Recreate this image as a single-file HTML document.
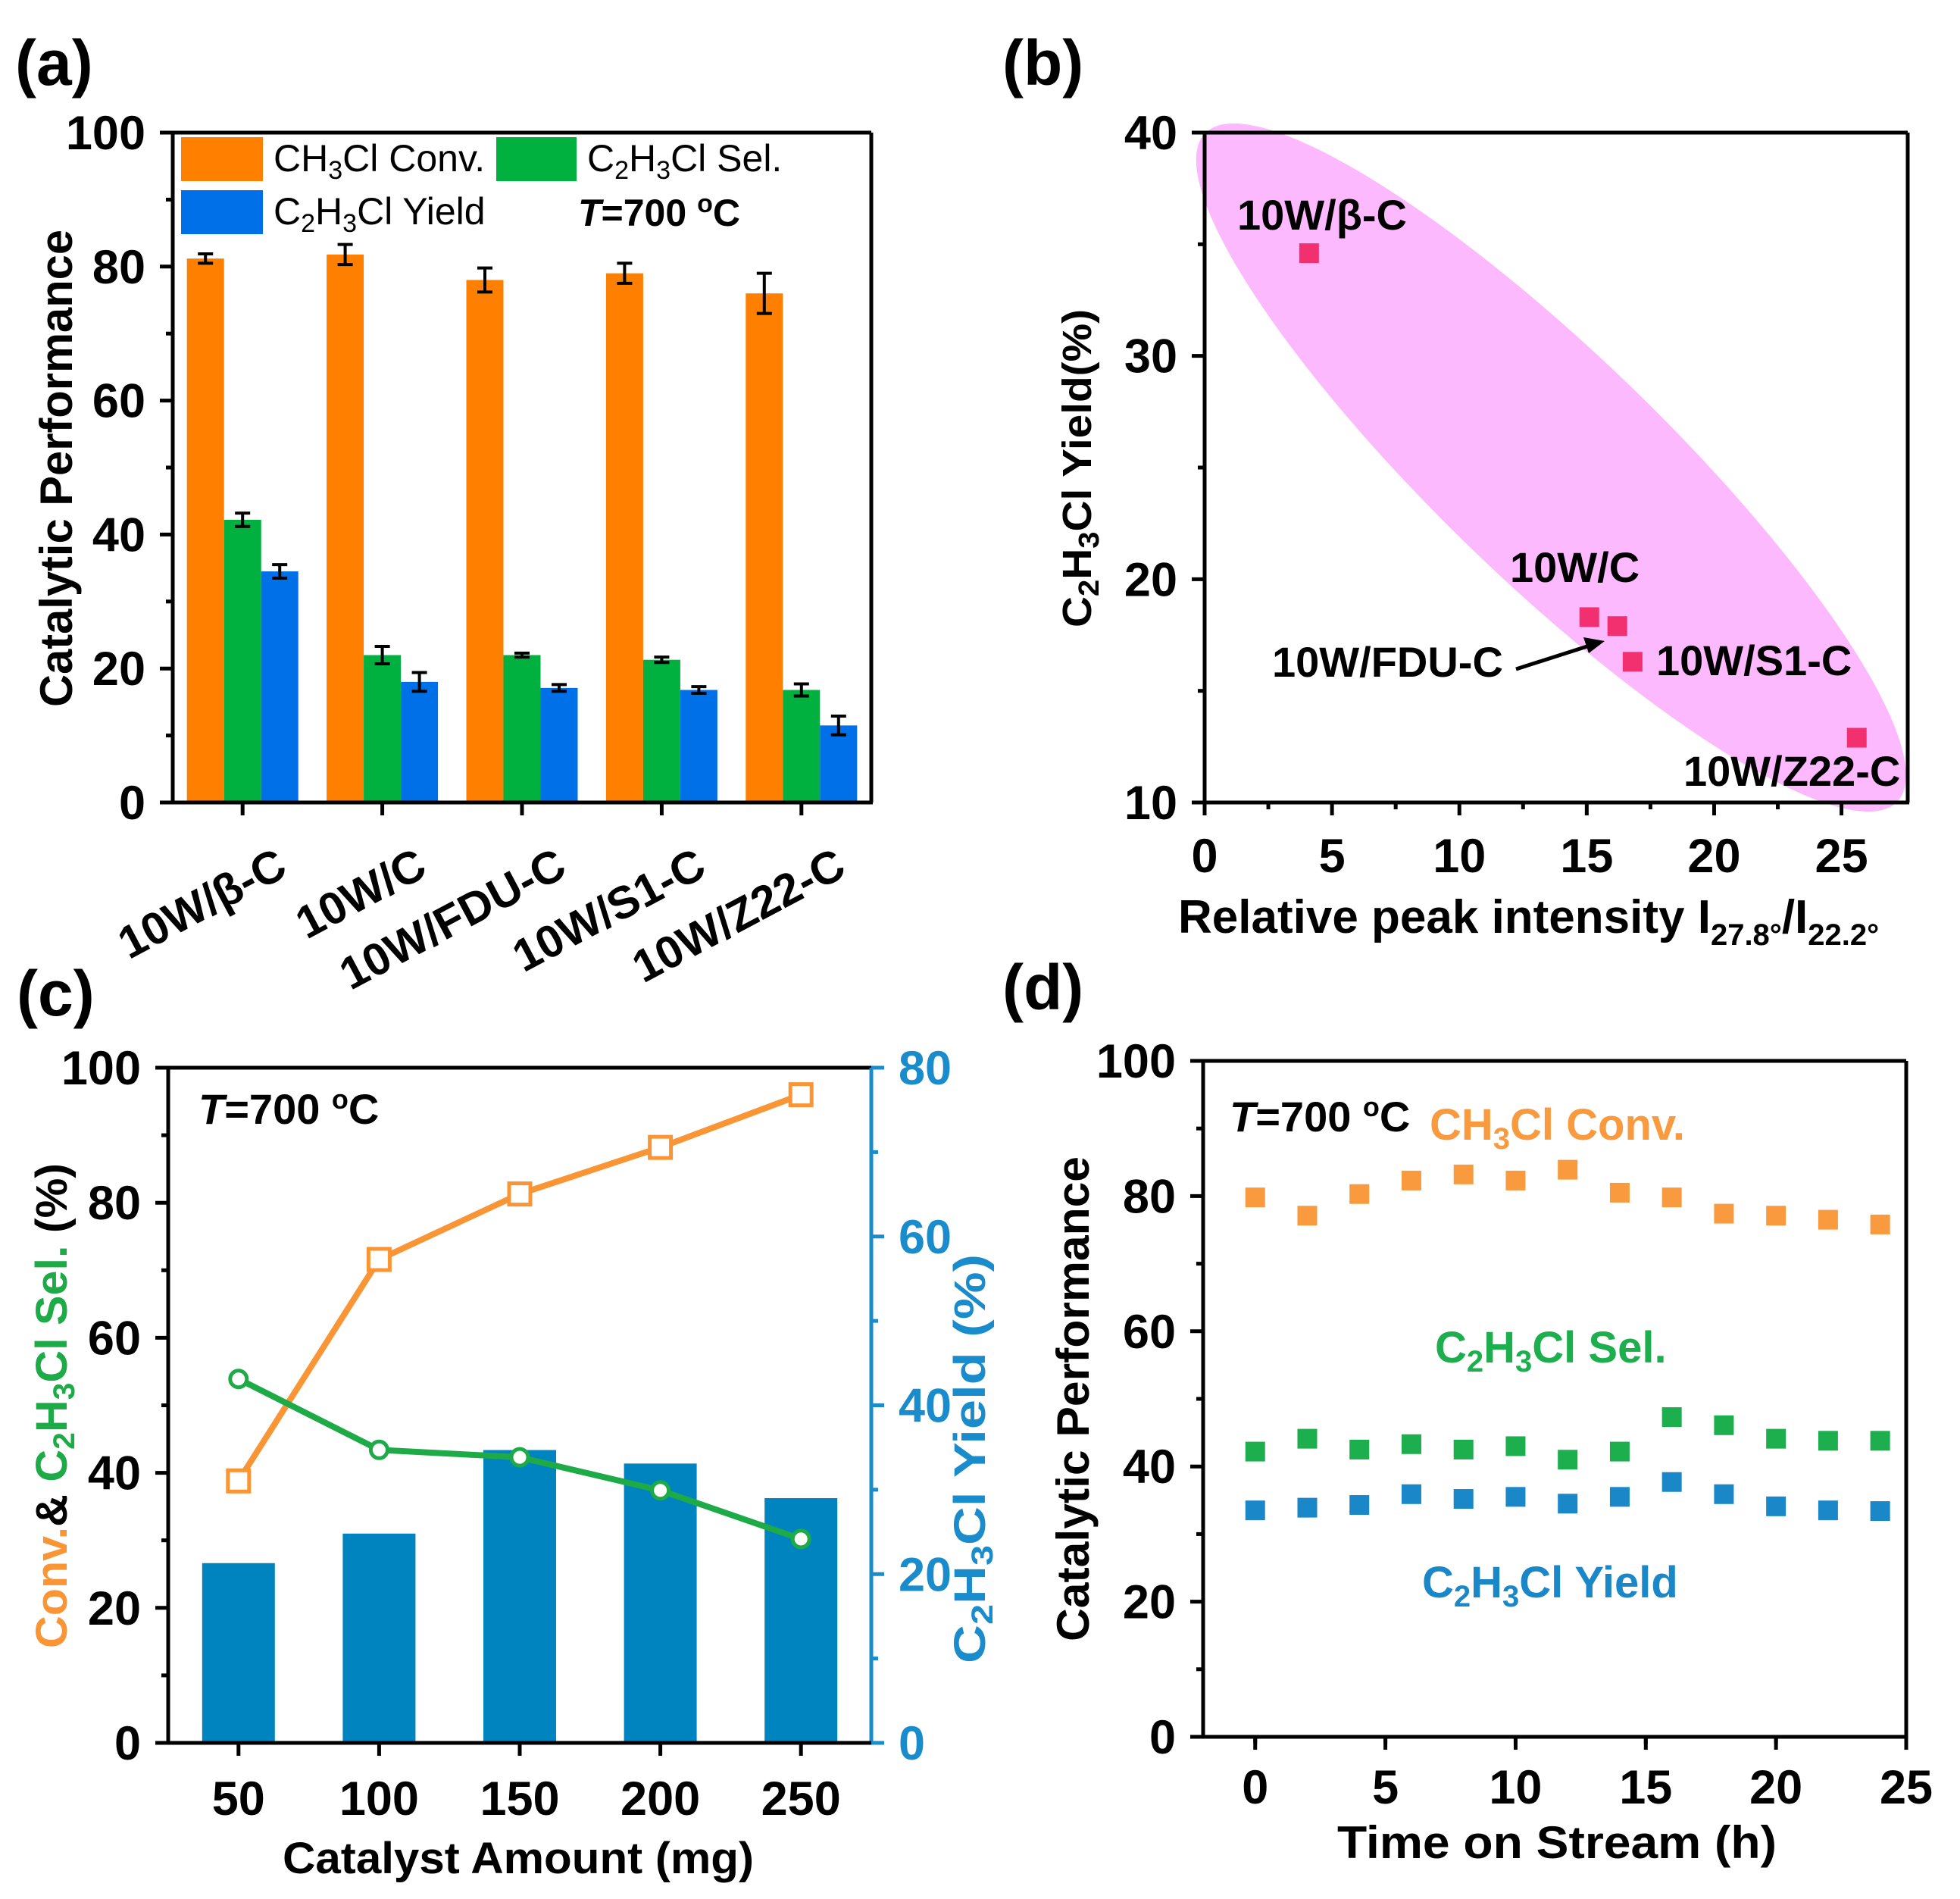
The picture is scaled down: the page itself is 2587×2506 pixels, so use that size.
<!DOCTYPE html>
<html><head><meta charset="utf-8"><style>
html,body{margin:0;padding:0;background:#fff;}
svg{display:block;font-family:"Liberation Sans",Arial,sans-serif;}
</style></head><body>
<svg id="fig" width="2587" height="2506" viewBox="0 0 2587 2506" xmlns="http://www.w3.org/2000/svg">
<rect width="2587" height="2506" fill="#fff"/>
<g id="marks"></g>
<!-- panel labels -->
<text x="20" y="112" font-size="84" font-weight="bold">(a)</text>
<text x="1323" y="112" font-size="84" font-weight="bold">(b)</text>
<text x="22" y="1340" font-size="84" font-weight="bold">(c)</text>
<text x="1323" y="1332" font-size="84" font-weight="bold">(d)</text>

<!-- (a) legend & annotations -->
<g>
<rect x="239" y="181" width="108" height="58" fill="#FF8000"/>
<text x="361" y="226" font-size="50">CH<tspan font-size="34" dy="10">3</tspan><tspan dy="-10">Cl Conv.</tspan></text>
<rect x="655" y="181" width="106" height="58" fill="#00B140"/>
<text x="775" y="226" font-size="50">C<tspan font-size="34" dy="10">2</tspan><tspan dy="-10">H</tspan><tspan font-size="34" dy="10">3</tspan><tspan dy="-10">Cl  Sel.</tspan></text>
<rect x="239" y="251" width="108" height="58" fill="#0070E8"/>
<text x="361" y="296" font-size="50">C<tspan font-size="34" dy="10">2</tspan><tspan dy="-10">H</tspan><tspan font-size="34" dy="10">3</tspan><tspan dy="-10">Cl Yield</tspan></text>
</g>
<text x="763" y="298" font-size="50" font-weight="bold"><tspan font-style="italic">T</tspan>=700 <tspan font-size="34" dy="-18">o</tspan><tspan dy="18">C</tspan></text>
<text transform="translate(95,618) rotate(-90)" text-anchor="middle" font-size="60" font-weight="bold" textLength="630" lengthAdjust="spacingAndGlyphs">Catalytic Performance</text>

<!-- (b) -->
<text transform="translate(1440,618) rotate(-90)" text-anchor="middle" font-size="54" font-weight="bold" textLength="420" lengthAdjust="spacingAndGlyphs">C<tspan font-size="38" dy="10">2</tspan><tspan dy="-10">H</tspan><tspan font-size="38" dy="10">3</tspan><tspan dy="-10">Cl Yield(%)</tspan></text>
<text x="1555" y="1231" font-size="62" font-weight="bold">Relative peak intensity I<tspan font-size="40" dy="16">27.8°</tspan><tspan dy="-16">/I</tspan><tspan font-size="40" dy="16">22.2°</tspan></text>
<g font-size="56" font-weight="bold">
<text x="1633" y="303">10W/β-C</text>
<text x="1993" y="768">10W/C</text>
<text x="1679" y="893">10W/FDU-C</text>
<text x="2186" y="891">10W/S1-C</text>
<text x="2222" y="1037">10W/Z22-C</text>
</g>
<g>
<line x1="2001" y1="883" x2="2098" y2="852" stroke="#000" stroke-width="5"/>
<polygon points="2118,846 2090,841 2097,862" fill="#000"/>
</g>

<!-- (c) -->
<text x="262" y="1483" font-size="56" font-weight="bold"><tspan font-style="italic">T</tspan>=700 <tspan font-size="36" dy="-20">o</tspan><tspan dy="20">C</tspan></text>
<text transform="translate(88,1855) rotate(-90)" text-anchor="middle" font-size="58" font-weight="bold" textLength="640" lengthAdjust="spacingAndGlyphs"><tspan fill="#F99535">Conv.</tspan><tspan fill="#000">&amp; </tspan><tspan fill="#1FAA48">C</tspan><tspan fill="#1FAA48" font-size="40" dy="10">2</tspan><tspan fill="#1FAA48" dy="-10">H</tspan><tspan fill="#1FAA48" font-size="40" dy="10">3</tspan><tspan fill="#1FAA48" dy="-10">Cl Sel. </tspan><tspan fill="#000">(%)</tspan></text>
<text transform="translate(1300,1925) rotate(-90)" text-anchor="middle" font-size="58" font-weight="bold" fill="#1A8CCB" textLength="540" lengthAdjust="spacingAndGlyphs">C<tspan font-size="40" dy="10">2</tspan><tspan dy="-10">H</tspan><tspan font-size="40" dy="10">3</tspan><tspan dy="-10">Cl Yield (%)</tspan></text>
<text x="684" y="2472" text-anchor="middle" font-size="58" font-weight="bold" textLength="622" lengthAdjust="spacingAndGlyphs">Catalyst Amount (mg)</text>

<!-- (d) -->
<text x="1623" y="1493" font-size="56" font-weight="bold"><tspan font-style="italic">T</tspan>=700 <tspan font-size="36" dy="-20">o</tspan><tspan dy="20">C</tspan></text>
<text x="1887" y="1504" font-size="58" font-weight="bold" fill="#F99A3E">CH<tspan font-size="40" dy="12">3</tspan><tspan dy="-12">Cl Conv.</tspan></text>
<text x="1894" y="1798" font-size="58" font-weight="bold" fill="#1DAE4E">C<tspan font-size="40" dy="12">2</tspan><tspan dy="-12">H</tspan><tspan font-size="40" dy="12">3</tspan><tspan dy="-12">Cl Sel.</tspan></text>
<text x="1877" y="2108" font-size="58" font-weight="bold" fill="#1A87C9">C<tspan font-size="40" dy="12">2</tspan><tspan dy="-12">H</tspan><tspan font-size="40" dy="12">3</tspan><tspan dy="-12">Cl Yield</tspan></text>
<text transform="translate(1437,1846) rotate(-90)" text-anchor="middle" font-size="60" font-weight="bold" textLength="640" lengthAdjust="spacingAndGlyphs">Catalytic Performance</text>
<text x="2055" y="2452" text-anchor="middle" font-size="60" font-weight="bold" textLength="580" lengthAdjust="spacingAndGlyphs">Time on Stream (h)</text>
</svg>
<script>
// ---------- data ----------
const catA = ["10W/β-C","10W/C","10W/FDU-C","10W/S1-C","10W/Z22-C"];
const convA = [81.2, 81.8, 78.0, 79.0, 76.0];
const convErrA = [0.7, 1.5, 1.8, 1.5, 3.0];
const selA = [42.2, 22.0, 22.0, 21.3, 16.8];
const selErrA = [1.0, 1.3, 0.3, 0.4, 0.9];
const yieldA = [34.5, 18.0, 17.1, 16.8, 11.5];
const yieldErrA = [1.0, 1.4, 0.5, 0.5, 1.4];
const ticksA = [0, 20, 40, 60, 80, 100];

const ratioB = [4.1, 15.1, 16.2, 16.8, 25.6];
const yieldB = [34.6, 18.3, 17.9, 16.3, 12.9];
const ticksBy = [10, 20, 30, 40];
const ticksBx = [0, 5, 10, 15, 20, 25];

const amountC = [50, 100, 150, 200, 250];
const convC = [38.8, 71.6, 81.3, 88.2, 96.0];
const selC = [53.9, 43.4, 42.3, 37.4, 30.2];
const yieldC = [21.3, 24.8, 34.7, 33.1, 29.0];
const ticksCl = [0, 20, 40, 60, 80, 100];
const ticksCr = [0, 20, 40, 60, 80];

const timeD = [0, 2, 4, 6, 8, 10, 12, 14, 16, 18, 20, 22, 24];
const convD = [79.8, 77.1, 80.3, 82.3, 83.2, 82.3, 83.9, 80.5, 79.8, 77.4, 77.1, 76.5, 75.8];
const selD = [42.2, 44.1, 42.5, 43.3, 42.5, 43.0, 41.0, 42.2, 47.3, 46.1, 44.1, 43.8, 43.8];
const yieldD = [33.5, 33.9, 34.3, 35.9, 35.2, 35.5, 34.5, 35.5, 37.7, 35.9, 34.1, 33.5, 33.4];
const ticksDy = [0, 20, 40, 60, 80, 100];
const ticksDx = [0, 5, 10, 15, 20, 25];

// ---------- scales ----------
const NS = "http://www.w3.org/2000/svg";
const G = document.getElementById("marks");
function mk(tag, a, parent) { const e = document.createElementNS(NS, tag); for (const k in a) e.setAttribute(k, a[k]); (parent || G).appendChild(e); return e; }
function lin(d0, d1, r0, r1) { return v => r0 + (v - d0) * (r1 - r0) / (d1 - d0); }

const A = {l:228, r:1150, t:175, b:1059};
const ayA = lin(0, 100, A.b, A.t);
const groupW = (A.r - A.l) / catA.length;
const axA = i => A.l + (i + 0.5) * groupW;
const B = {l:1590, r:2518, t:175, b:1059};
const axB = lin(0, 27.6, B.l, B.r), ayB = lin(10, 40, B.b, B.t);
const C = {l:222, r:1150, t:1409, b:2300};
const axC = lin(25, 275, C.l, C.r), ayCl = lin(0, 100, C.b, C.t), ayCr = lin(0, 80, C.b, C.t);
const D = {l:1588, r:2516, t:1400, b:2292};
const axD = lin(-2, 25, D.l, D.r), ayD = lin(0, 100, D.b, D.t);

function frame(P, name, rightColor) {
  const f = mk("path", {d:`M${P.l},${P.b}V${P.t}H${P.r}`, fill:"none", stroke:"#000", "stroke-width":5});
  
  
  const rr = mk("line", {x1:P.r, y1:P.t, x2:P.r, y2:P.b, stroke:rightColor || "#000", "stroke-width":5});
  
  
  const bb = mk("line", {x1:P.l - 15, y1:P.b, x2:P.r + 2, y2:P.b, stroke:"#000", "stroke-width":5});
  
  
}
function yTicks(ticks, sc, x, name, minorStep, lo, hi, color, side) {
  const c = color || "#000"; const dir = side === "r" ? 1 : -1;
  for (const v of ticks) {
    const y = sc(v);
    const t = mk("line", {x1:x, y1:y, x2:x + dir * 17, y2:y, stroke:c, "stroke-width":5});
    
    
    const tx = mk("text", {x: x + dir * 36, y: y + 22, "text-anchor": side === "r" ? "start" : "end", "font-size":63, "font-weight":"bold", fill:c});
    tx.textContent = v;
    
    
  }
  for (let v = lo + minorStep; v < hi; v += 2 * minorStep) {
    const y = sc(v);
    const m = mk("line", {x1:x, y1:y, x2:x + dir * 9, y2:y, stroke:c, "stroke-width":5});
    
    
  }
}
function xTicks(ticks, sc, y, name, minorStep, lo, hi, labelY) {
  for (const v of ticks) {
    const x = sc(v);
    const t = mk("line", {x1:x, y1:y, x2:x, y2:y + 17, stroke:"#000", "stroke-width":5});
    
    
    const tx = mk("text", {x:x, y:labelY, "text-anchor":"middle", "font-size":63, "font-weight":"bold"});
    tx.textContent = v;
    
    
  }
  if (minorStep) for (let v = lo + minorStep; v < hi; v += 2 * minorStep) {
    const x = sc(v);
    const m = mk("line", {x1:x, y1:y, x2:x, y2:y + 9, stroke:"#000", "stroke-width":5});
    
    
  }
}

// ---------- (a) ----------
const bw = 49;
const seriesA = [[convA, convErrA, "#FF8000", "conv"], [selA, selErrA, "#00B140", "sel"], [yieldA, yieldErrA, "#0070E8", "yield"]];
catA.forEach((c, i) => {
  seriesA.forEach((s, j) => {
    const cx = axA(i) + (j - 1) * bw, v = s[0][i], e = s[1][i];
    const r = mk("rect", {x:cx - bw / 2, y:ayA(v), width:bw, height:ayA(0) - ayA(v), fill:s[2]});
    
    
    const eb = mk("path", {d:`M${cx - 10},${ayA(v + e)}H${cx + 10}M${cx},${ayA(v + e)}V${ayA(v - e)}M${cx - 10},${ayA(v - e)}H${cx + 10}`, stroke:"#000", "stroke-width":4, fill:"none"});
    
    
  });
  const t = mk("line", {x1:axA(i), y1:A.b, x2:axA(i), y2:A.b + 17, stroke:"#000", "stroke-width":5});
  
  
  const lb = mk("text", {transform:`translate(${axA(i) + 62},${A.b + 95}) rotate(-28)`, "text-anchor":"end", "font-size":60, "font-weight":"bold"});
  lb.textContent = c;
  
  
});
frame(A, "panel-a");
yTicks(ticksA, ayA, A.l, "y-axis-a", 10, 0, 100);

// ---------- (b) ----------
const el = mk("ellipse", {cx:0, cy:0, rx:635, ry:150, fill:"#FDB9FD", transform:`translate(${axB(13.6)},${ayB(25.0)}) rotate(44)`});


G.insertBefore(el, G.firstChild);
ratioB.forEach((x, i) => {
  const p = mk("rect", {x:axB(x) - 13, y:ayB(yieldB[i]) - 13, width:26, height:26, fill:"#F2306F"});
  
  
});
frame(B, "panel-b");
yTicks(ticksBy, ayB, B.l, "y-axis-b", 5, 10, 40);
xTicks(ticksBx, axB, B.b, "x-axis-b", 2.5, 0, 27.5, B.b + 92);

// ---------- (c) ----------
amountC.forEach((a, i) => {
  const r = mk("rect", {x:axC(a) - 48, y:ayCr(yieldC[i]), width:96, height:ayCr(0) - ayCr(yieldC[i]), fill:"#0084C0"});
  
  
});
const lc = mk("polyline", {points:amountC.map((a, i) => axC(a) + "," + ayCl(convC[i])).join(" "), fill:"none", stroke:"#F99535", "stroke-width":8});


const ls = mk("polyline", {points:amountC.map((a, i) => axC(a) + "," + ayCl(selC[i])).join(" "), fill:"none", stroke:"#1FAA48", "stroke-width":8});


amountC.forEach((a, i) => {
  const s = mk("rect", {x:axC(a) - 14, y:ayCl(convC[i]) - 14, width:28, height:28, fill:"#fff", stroke:"#F99535", "stroke-width":5});
  
  
  const c = mk("circle", {cx:axC(a), cy:ayCl(selC[i]), r:11, fill:"#fff", stroke:"#1FAA48", "stroke-width":5});
  
  
});
frame(C, "panel-c", "#1A8CCB");
yTicks(ticksCl, ayCl, C.l, "y-axis-c-left", 10, 0, 100);
yTicks(ticksCr, ayCr, C.r, "y-axis-c-right", 10, 0, 80, "#1A8CCB", "r");
xTicks(amountC, axC, C.b, "x-axis-c", 0, 0, 0, C.b + 95);

// ---------- (d) ----------
[[convD, "#F99A3E", "conv"], [selD, "#1DAE4E", "sel"], [yieldD, "#1A87C9", "yield"]].forEach(s => {
  timeD.forEach((t, i) => {
    const p = mk("rect", {x:axD(t) - 13, y:ayD(s[0][i]) - 13, width:26, height:26, fill:s[1]});
    
    
  });
});
frame(D, "panel-d");
yTicks(ticksDy, ayD, D.l, "y-axis-d", 10, 0, 100);
xTicks(ticksDx, axD, D.b, "x-axis-d", 2.5, -2.5, 25, D.b + 88);
</script>
</body></html>
